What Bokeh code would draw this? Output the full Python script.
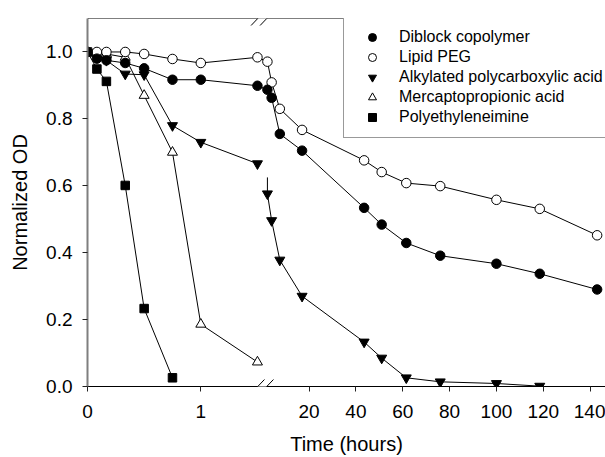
import numpy as np
from bokeh.plotting import figure
from bokeh.models import (Range1d, FixedTicker, Span, Arrow, ColumnDataSource,
                          Legend, LegendItem, PrintfTickFormatter)
from bokeh.embed import file_html
from bokeh.resources import INLINE

# ---------------- data (time in hours, normalized OD) ----------------
diblock_t = [0, 0.083, 0.167, 0.333, 0.5, 0.75, 1, 1.5, 2.2, 4, 7.5, 17, 43.5, 51, 61.5, 76, 100, 118.5, 143]
diblock_v = [1.0, 0.98, 0.975, 0.967, 0.951, 0.917, 0.917, 0.899, 0.887, 0.863, 0.755, 0.705,
             0.534, 0.484, 0.429, 0.391, 0.367, 0.337, 0.290]

peg_t = [0, 0.083, 0.167, 0.333, 0.5, 0.75, 1, 1.5, 2.2, 4, 7.5, 17, 43.5, 51, 61.5, 76, 100, 118.5, 143]
peg_v = [1.0, 1.0, 1.0, 1.0, 0.994, 0.979, 0.967, 0.984, 0.971, 0.909, 0.830, 0.767,
         0.676, 0.641, 0.608, 0.599, 0.558, 0.531, 0.452]

alk_left_t = [0, 0.083, 0.167, 0.333, 0.5, 0.75, 1, 1.5]
alk_left_v = [1.0, 0.99, 0.975, 0.934, 0.932, 0.780, 0.730, 0.666]
alk_right_t = [2.2, 4, 7.5, 17, 43.5, 51, 61.5, 76, 100, 118.5]
alk_right_v = [0.576, 0.496, 0.378, 0.270, 0.133, 0.085, 0.026, 0.014, 0.009, 0.001]
alk_stub_v = 0.625   # where the line resumes after the break

mpa_t = [0, 0.083, 0.167, 0.333, 0.5, 0.75, 1, 1.5]
mpa_v = [1.0, 0.994, 0.994, 0.984, 0.870, 0.700, 0.186, 0.073]

pei_t = [0, 0.083, 0.167, 0.333, 0.5, 0.75]
pei_v = [1.0, 0.949, 0.912, 0.601, 0.233, 0.026]

labels = ["Diblock copolymer", "Lipid PEG", "Alkylated polycarboxylic acid",
          "Mercaptopropionic acid", "Polyethyleneimine"]

x_ticks_left = [0, 1]
x_ticks_right = [20, 40, 60, 80, 100, 120, 140]
y_ticks = [0.0, 0.2, 0.4, 0.6, 0.8, 1.0]

# ---------------- broken time axis ----------------
BREAK = 1.5425          # display position of the break
RIGHT_SCALE = 0.020668  # display units per hour right of the break
LEFT_MAX = 1.5


def disp(t):
    t = np.asarray(t, dtype=float)
    return np.where(t <= LEFT_MAX, t, BREAK + t * RIGHT_SCALE)


FONT = "Liberation Sans"

p = figure(width=605, height=457, output_backend="svg", toolbar_location=None,
           x_range=Range1d(0, 518 / 113.3), y_range=Range1d(0, 1.1),
           min_border_left=87, min_border_right=0, min_border_top=18, min_border_bottom=71)
p.grid.visible = False
p.outline_line_color = None
p.background_fill_color = "white"
p.border_fill_color = "white"

tick_vals = [float(v) for v in x_ticks_left] + [float(BREAK + h * RIGHT_SCALE) for h in x_ticks_right]
tick_labels = [str(v) for v in x_ticks_left] + [str(h) for h in x_ticks_right]

xa = p.xaxis[0]
xa.ticker = FixedTicker(ticks=tick_vals)
xa.major_label_overrides = {v: s for v, s in zip(tick_vals, tick_labels)}
xa.axis_label = "Time (hours)"
xa.major_label_standoff = 13
xa.axis_label_standoff = 12
xa.axis_line_color = "black"

ya = p.yaxis[0]
ya.ticker = FixedTicker(ticks=y_ticks)
ya.formatter = PrintfTickFormatter(format="%.1f")
ya.axis_label = "Normalized OD"
ya.major_label_standoff = 10
ya.axis_label_standoff = 12
ya.axis_line_color = "#7f7f7f"
ya.axis_line_width = 2

for ax in (xa, ya):
    ax.minor_tick_line_color = None
    ax.major_tick_in = 0
    ax.major_tick_out = 5
    ax.major_tick_line_color = "#222222"
    ax.major_label_text_font = FONT
    ax.major_label_text_font_size = "19px"
    ax.major_label_text_color = "black"
    ax.axis_label_text_font = FONT
    ax.axis_label_text_font_size = "20px"
    ax.axis_label_text_font_style = "normal"
    ax.axis_label_text_color = "black"

# top frame line
p.add_layout(Span(location=1.1, dimension="width", line_color="black", line_width=1))

# ---------------- series ----------------
LW = 1
p.line(disp(diblock_t), diblock_v, line_color="black", line_width=LW)
p.line(disp(peg_t), peg_v, line_color="black", line_width=LW)
p.line(disp(alk_left_t), alk_left_v, line_color="black", line_width=LW)
p.line(disp([alk_right_t[0]] + alk_right_t), [alk_stub_v] + alk_right_v, line_color="black", line_width=LW)
p.line(disp(mpa_t), mpa_v, line_color="black", line_width=LW)
p.line(disp(pei_t), pei_v, line_color="black", line_width=LW)

r_pei = p.scatter(disp(pei_t), pei_v, marker="square", size=8.5, fill_color="black", line_color="black")
r_mpa = p.scatter(disp(mpa_t), mpa_v, marker="triangle", size=10, fill_color="white", line_color="black")
r_alk = p.scatter(disp(alk_left_t + alk_right_t), alk_left_v + alk_right_v, marker="inverted_triangle",
                  size=10, fill_color="black", line_color="black")
r_peg = p.scatter(disp(peg_t), peg_v, marker="circle", size=9.5, fill_color="white", line_color="black")
r_dib = p.scatter(disp(diblock_t), diblock_v, marker="circle", size=9.5, fill_color="black", line_color="black")

# ---------------- break marks ----------------
gap = 4.5 / 113.3
sdx = 6.7 / 113.3
sdy = 7.0 / 334.5
ylevels = [0.0, 1.1]
white_src = ColumnDataSource(dict(x0=[BREAK - gap] * 2, x1=[BREAK + gap] * 2, y0=ylevels, y1=ylevels))
p.add_layout(Arrow(end=None, source=white_src, x_start="x0", y_start="y0", x_end="x1", y_end="y1",
                   line_color="white", line_width=3))
sx0, sx1, sy0, sy1 = [], [], [], []
for yl in ylevels:
    for off in (-gap, gap):
        sx0.append(BREAK + off - sdx)
        sx1.append(BREAK + off + sdx)
        sy0.append(yl - sdy)
        sy1.append(yl + sdy)
slash_src = ColumnDataSource(dict(x0=sx0, x1=sx1, y0=sy0, y1=sy1))
p.add_layout(Arrow(end=None, source=slash_src, x_start="x0", y_start="y0", x_end="x1", y_end="y1",
                   line_color="black", line_width=1))

# ---------------- legend ----------------
legend = Legend(items=[LegendItem(label=labels[0], renderers=[r_dib]),
                       LegendItem(label=labels[1], renderers=[r_peg]),
                       LegendItem(label=labels[2], renderers=[r_alk]),
                       LegendItem(label=labels[3], renderers=[r_mpa]),
                       LegendItem(label=labels[4], renderers=[r_pei])],
                location=(256, 248), padding=10, spacing=0, margin=0,
                label_height=20, glyph_height=20, glyph_width=36, label_standoff=9,
                label_text_font=FONT, label_text_font_size="16px", label_text_color="black",
                border_line_color="#333333", border_line_width=1,
                background_fill_color="white", background_fill_alpha=1.0)
p.add_layout(legend)

open("out.html", "w").write(file_html(p, INLINE))
